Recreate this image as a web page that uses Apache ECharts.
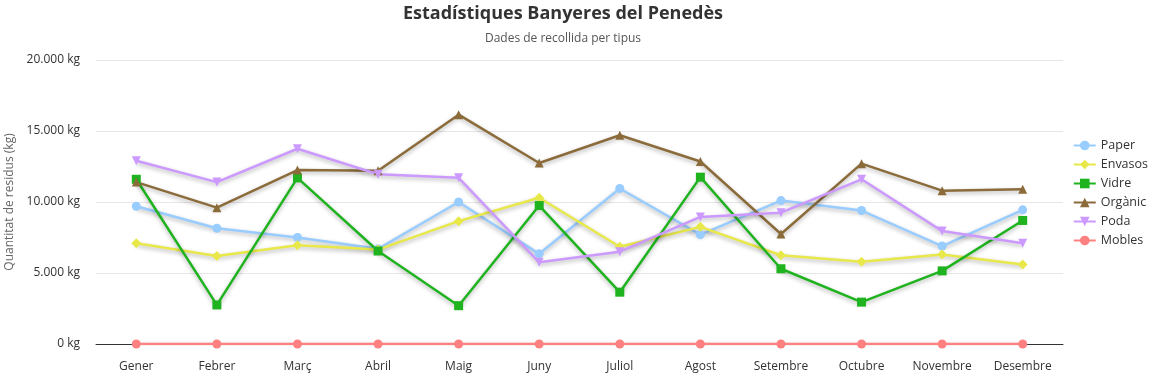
<!DOCTYPE html>
<html>
<head>
<meta charset="utf-8">
<script src="https://cdn.jsdelivr.net/npm/echarts@6/dist/echarts.min.js"></script>
<style>
  html, body { margin: 0; padding: 0; background: #fff; }
  #chart { width: 1159px; height: 378px; }
</style>
</head>
<body>
<div id="chart"></div>
<script>
// mesos
const mesos = ["Gener", "Febrer", "Març", "Abril", "Maig", "Juny", "Juliol", "Agost", "Setembre", "Octubre", "Novembre", "Desembre"];
// quantitats per tipus (kg)
const paper = [9700, 8150, 7500, 6700, 10000, 6350, 10950, 7700, 10100, 9400, 6900, 9450];
const envasos = [7100, 6200, 6950, 6650, 8650, 10300, 6850, 8250, 6250, 5800, 6300, 5600];
const vidre = [11600, 2750, 11700, 6550, 2700, 9750, 3650, 11750, 5300, 2950, 5150, 8700];
const organic = [11400, 9600, 12250, 12200, 16150, 12750, 14700, 12850, 7750, 12700, 10800, 10900];
const poda = [12900, 11400, 13750, 11950, 11700, 5750, 6500, 8950, 9250, 11600, 7950, 7100];
const mobles = [0, 0, 0, 0, 0, 0, 0, 0, 0, 0, 0, 0];

const yTicks = [0, 5000, 10000, 15000, 20000];

const chart = echarts.init(document.getElementById("chart"));

function serie(name, data, color, symbol, rotate) {
  return {
    name: name,
    type: "line",
    data: data,
    symbol: symbol,
    symbolSize: symbol === "diamond" ? 10 : 9,
    symbolRotate: rotate || 0,
    itemStyle: { color: color },
    lineStyle: {
      width: 2.5,
      color: color,
      shadowColor: "rgba(0,0,0,0.3)",
      shadowBlur: 4,
      shadowOffsetY: 2,
    },
  };
}

const option = {
  animation: false,
  title: {
    text: "Estadístiques Banyeres del Penedès",
    subtext: "Dades de recollida per tipus",
    left: 558,
    top: 0,
    textAlign: "center",
    itemGap: 10,
    textStyle: { fontSize: 18, fontWeight: "bold", color: "#333", fontFamily: "Open Sans" },
    subtextStyle: { fontSize: 12, color: "#555", fontFamily: "Open Sans" },
  },
  legend: {
    orient: "vertical",
    right: 6,
    top: 134,
    itemGap: 6,
    itemWidth: 22,
    itemHeight: 12,
    textStyle: { fontSize: 12.5, color: "#333", fontFamily: "Open Sans" },
    data: ["Paper", "Envasos", "Vidre", "Orgànic", "Poda", "Mobles"],
  },
  grid: { left: 96, right: 96, top: 60, bottom: 34, outerBoundsMode: "none" },
  xAxis: {
    type: "category",
    data: mesos,
    boundaryGap: true,
    axisLine: { lineStyle: { color: "#333" } },
    axisTick: { show: false },
    axisLabel: { color: "#333", fontSize: 12, margin: 17, fontFamily: "Open Sans" },
  },
  yAxis: {
    type: "value",
    min: yTicks[0],
    max: yTicks[yTicks.length - 1],
    interval: 5000,
    name: "Quantitat de residus (kg)",
    nameLocation: "middle",
    nameGap: 68,
    nameTextStyle: { color: "#666", fontSize: 12, fontFamily: "Open Sans" },
    axisLine: { show: false },
    axisTick: { show: false },
    splitLine: { lineStyle: { color: "#e6e6e6" } },
    axisLabel: {
      color: "#333",
      fontSize: 12,
      margin: 16,
      fontFamily: "Open Sans",
      formatter: (v) => v.toString().replace(/\B(?=(\d{3})+(?!\d))/g, ".") + " kg",
    },
  },
  series: [
    serie("Paper", paper, "#99ccff", "circle"),
    serie("Envasos", envasos, "#e8e84a", "diamond"),
    serie("Vidre", vidre, "#1fb31f", "rect"),
    serie("Orgànic", organic, "#8b6b3a", "triangle"),
    serie("Poda", poda, "#cc99ff", "triangle", 180),
    serie("Mobles", mobles, "#ff8080", "circle"),
  ],
};

chart.setOption(option);
</script>
</body>
</html>
